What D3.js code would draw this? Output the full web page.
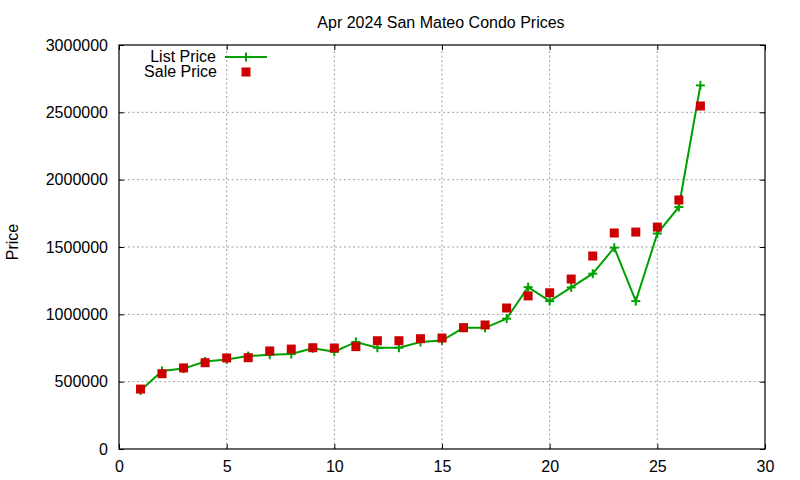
<!DOCTYPE html>
<html>
<head>
<meta charset="utf-8">
<script src="https://cdn.jsdelivr.net/npm/d3@7"></script>
<style>
  body { margin: 0; background: #fff; }
  svg { font-family: "Liberation Sans", Arial, sans-serif; }
  .grid line { stroke: #a0a0a0; stroke-width: 1; stroke-dasharray: 2,2.5; }
</style>
</head>
<body>
<svg id="chart" width="800" height="480"></svg>
<script>
// data
var days = [1,2,3,4,5,6,7,8,9,10,11,12,13,14,15,16,17,18,19,20,21,22,23,24,25,26,27];
var listPrice = [435000,580000,597000,650000,665000,690000,700000,705000,748000,722000,795000,752000,752000,795000,805000,900000,900000,968000,1202000,1098000,1200000,1302000,1495000,1098000,1600000,1797000,2700000];
var salePrice = [445000,559000,602000,641000,676000,678000,728000,742000,752000,750000,760000,804000,804000,819000,824000,901000,921000,1047000,1137000,1160000,1262000,1433000,1604000,1611000,1648000,1849000,2547000];
var xTicks = [0,5,10,15,20,25,30];
var yTicks = [0,500000,1000000,1500000,2000000,2500000,3000000];

var margin = { left: 119, right: 35, top: 45, bottom: 31 };
var W = 800, H = 480;

var svg = d3.select('#chart');

var x = d3.scaleLinear().domain([0, 30]).range([margin.left, W - margin.right]);
var y = d3.scaleLinear().domain([0, 3000000]).range([H - margin.bottom, margin.top]);

// grid
var grid = svg.append('g').attr('class', 'grid');
grid.selectAll('.gx').data(xTicks.slice(1, -1)).enter().append('line')
	.attr('x1', d => x(d)).attr('x2', d => x(d))
	.attr('y1', y(0)).attr('y2', y(3000000));
grid.selectAll('.gy').data(yTicks.slice(1, -1)).enter().append('line')
	.attr('x1', x(0)).attr('x2', x(30))
	.attr('y1', d => y(d)).attr('y2', d => y(d));

// axes, ticks inside, mirrored
var tk = 5;
function styleAxis(g) {
	g.select('.domain').remove();
	g.selectAll('.tick line').attr('stroke', '#000');
	g.selectAll('.tick text').attr('fill', '#000').style('font-size', '16px');
}
svg.append('g').attr('transform', 'translate(0,' + y(0) + ')')
	.call(d3.axisBottom(x).tickValues(xTicks).tickSizeInner(-tk).tickSizeOuter(0).tickPadding(8))
	.call(styleAxis)
	.selectAll('.tick text').attr('dy', '0.95em');
svg.append('g').attr('transform', 'translate(0,' + y(3000000) + ')')
	.call(d3.axisTop(x).tickValues(xTicks).tickSizeInner(-tk).tickSizeOuter(0).tickFormat(''))
	.call(styleAxis);
svg.append('g').attr('transform', 'translate(' + x(0) + ',0)')
	.call(d3.axisLeft(y).tickValues(yTicks).tickSizeInner(-tk).tickSizeOuter(0).tickPadding(11).tickFormat(d3.format('d')))
	.call(styleAxis);
svg.append('g').attr('transform', 'translate(' + x(30) + ',0)')
	.call(d3.axisRight(y).tickValues(yTicks).tickSizeInner(-tk).tickSizeOuter(0).tickFormat(''))
	.call(styleAxis);

// border
svg.append('rect')
	.attr('x', x(0)).attr('y', y(3000000))
	.attr('width', x(30) - x(0)).attr('height', y(0) - y(3000000))
	.attr('fill', 'none').attr('stroke', '#000').attr('stroke-width', 1.2);

// title and label
svg.append('text').attr('x', 441).attr('y', 28).attr('text-anchor', 'middle')
	.style('font-size', '16px').text('Apr 2024 San Mateo Condo Prices');
svg.append('text').attr('transform', 'translate(18,242) rotate(-90)')
	.attr('text-anchor', 'middle').style('font-size', '16px').text('Price');

var green = '#00a000', red = '#cc0000';
var cs = 4.5, sq = 4.5;

function cross(g, cx, cy) {
	g.append('line').attr('x1', cx - cs).attr('x2', cx + cs).attr('y1', cy).attr('y2', cy);
	g.append('line').attr('x1', cx).attr('x2', cx).attr('y1', cy - cs).attr('y2', cy + cs);
}

// list price line with crosses
var line = d3.line().x((d, i) => x(days[i])).y(d => y(d));
svg.append('path').datum(listPrice).attr('d', line)
	.attr('fill', 'none').attr('stroke', green).attr('stroke-width', 2);
var crosses = svg.append('g').attr('stroke', green).attr('stroke-width', 2);
listPrice.forEach(function(v, i) { cross(crosses, x(days[i]), y(v)); });

// sale price squares
svg.append('g').selectAll('rect').data(salePrice).enter().append('rect')
	.attr('x', (d, i) => x(days[i]) - sq).attr('y', d => y(d) - sq)
	.attr('width', sq * 2).attr('height', sq * 2).attr('fill', red);

// legend
var lg = svg.append('g');
lg.append('text').attr('x', 216).attr('y', 62).attr('text-anchor', 'end')
	.style('font-size', '16px').text('List Price');
lg.append('line').attr('x1', 225).attr('x2', 267).attr('y1', 57).attr('y2', 57)
	.attr('stroke', green).attr('stroke-width', 2);
var lc = lg.append('g').attr('stroke', green).attr('stroke-width', 2);
cross(lc, 246, 57);
lg.append('text').attr('x', 217).attr('y', 77).attr('text-anchor', 'end')
	.style('font-size', '16px').text('Sale Price');
lg.append('rect').attr('x', 246 - sq).attr('y', 72 - sq)
	.attr('width', sq * 2).attr('height', sq * 2).attr('fill', red);
</script>
</body>
</html>
